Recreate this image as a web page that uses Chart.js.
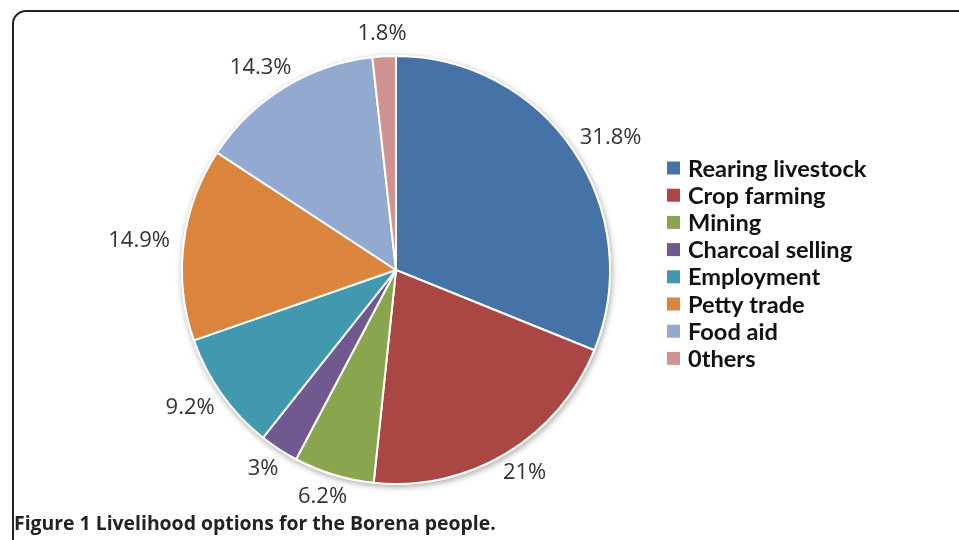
<!DOCTYPE html>
<html>
<head>
<meta charset="utf-8">
<script src="https://cdn.jsdelivr.net/npm/chart.js@4.4.1/dist/chart.umd.min.js"></script>
<style>
  html, body { margin: 0; padding: 0; background: #fff; }
  #wrap { position: relative; width: 959px; height: 540px; overflow: hidden; }
  #frame {
    position: absolute; left: 12px; top: 10px; width: 1000px; height: 600px;
    border: 2px solid #222; border-radius: 14px; box-sizing: border-box;
  }
  #chart { position: absolute; left: 0; top: 0; }
  #caption {
    position: absolute; left: 14px; top: 509px;
    font-family: "Open Sans", sans-serif; font-weight: 700; font-size: 19.4px;
    color: #222; white-space: nowrap;
  }
</style>
</head>
<body>
<div id="wrap">
  <div id="frame"></div>
  <canvas id="chart" width="959" height="540"></canvas>
  <div id="caption">Figure 1 Livelihood options for the Borena people.</div>
</div>
<script>
const categories = [
  "Rearing livestock", "Crop farming", "Mining", "Charcoal selling",
  "Employment", "Petty trade", "Food aid", "0thers"
];
const shares = [31.8, 21, 6.2, 3, 9.2, 14.9, 14.3, 1.8];
const shareLabels = ["31.8%", "21%", "6.2%", "3%", "9.2%", "14.9%", "14.3%", "1.8%"];
const colors = [
  "#4572A7", "#AA4643", "#89A54E", "#71588F",
  "#4198AF", "#DB843D", "#93A9CF", "#D19392"
];

// soft shadow behind the pie
const pieShadow = {
  id: "pieShadow",
  beforeDatasetsDraw(chart) {
    const arc = chart.getDatasetMeta(0).data[0];
    if (!arc) return;
    const ctx = chart.ctx;
    ctx.save();
    ctx.shadowColor = "rgba(0,0,0,0.35)";
    ctx.shadowBlur = 6;
    ctx.shadowOffsetX = 1;
    ctx.shadowOffsetY = 2;
    ctx.fillStyle = "#fff";
    ctx.beginPath();
    ctx.arc(arc.x, arc.y, arc.outerRadius + 1, 0, Math.PI * 2);
    ctx.fill();
    ctx.restore();
  }
};

// percentage labels outside each slice
const outsideLabels = {
  id: "outsideLabels",
  afterDatasetsDraw(chart) {
    const ctx = chart.ctx;
    const arcs = chart.getDatasetMeta(0).data;
    ctx.save();
    ctx.font = "22px 'Open Sans', sans-serif";
    ctx.fillStyle = "#333";
    ctx.textAlign = "center";
    ctx.textBaseline = "middle";
    arcs.forEach((arc, i) => {
      const mid = (arc.startAngle + arc.endAngle) / 2;
      const cos = Math.cos(mid), sin = Math.sin(mid);
      const r = arc.outerRadius + 14;
      const text = shareLabels[i];
      const w = ctx.measureText(text).width;
      const h = 18;
      const x = arc.x + cos * r + cos * w / 2;
      const y = arc.y + sin * r + sin * h / 2;
      ctx.fillText(text, x, y);
    });
    ctx.restore();
  }
};

// legend on the right
const sideLegend = {
  id: "sideLegend",
  afterDraw(chart) {
    const ctx = chart.ctx;
    const left = 667, top = 168, step = 27.2, box = 13;
    ctx.save();
    ctx.font = "bold 23.6px Lato, sans-serif";
    ctx.textBaseline = "middle";
    categories.forEach((name, i) => {
      const y = top + i * step;
      ctx.fillStyle = colors[i];
      ctx.fillRect(left, y - box / 2, box, box);
      ctx.fillStyle = "#111";
      ctx.fillText(name, left + 21, y + 1);
    });
    ctx.restore();
  }
};

new Chart(document.getElementById("chart"), {
  type: "pie",
  data: {
    labels: categories,
    datasets: [{
      data: shares,
      backgroundColor: colors,
      borderColor: "#fff",
      borderWidth: 2
    }]
  },
  options: {
    responsive: false,
    animation: false,
    layout: { padding: { left: 181, right: 348, top: 55, bottom: 55 } },
    plugins: {
      legend: { display: false },
      tooltip: { enabled: false }
    }
  },
  plugins: [pieShadow, outsideLabels, sideLegend]
});
</script>
</body>
</html>
